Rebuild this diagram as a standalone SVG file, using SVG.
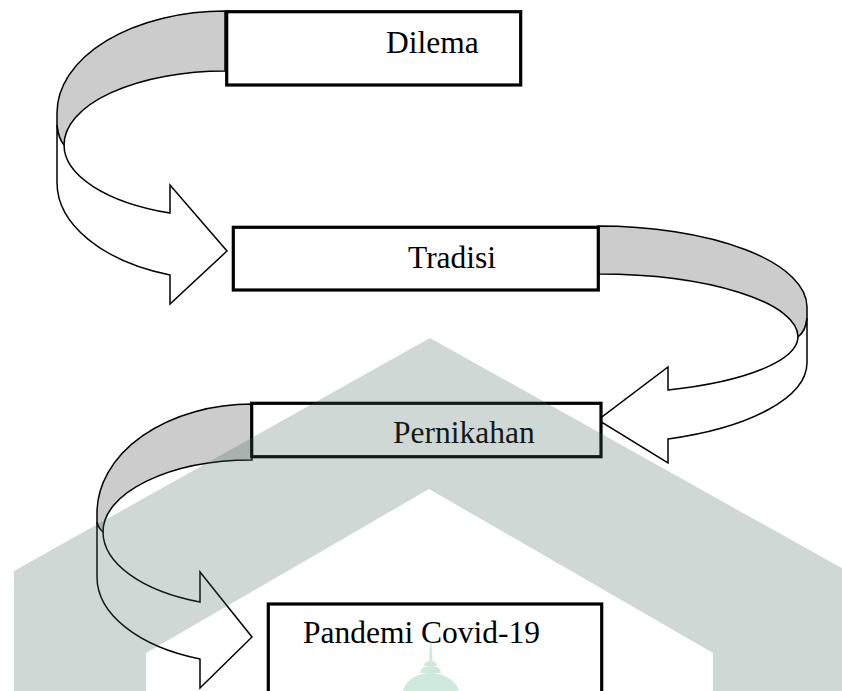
<svg xmlns="http://www.w3.org/2000/svg" width="842" height="691" viewBox="0 0 842 691">
<style>
.box{fill:#ffffff;stroke:#000000;stroke-width:3.2}
.back{fill:#cccccc;stroke:#000000;stroke-width:1.5;stroke-linejoin:miter}
.front{fill:#ffffff;stroke:#000000;stroke-width:1.5;stroke-linejoin:miter}
.lbl{font-family:"Liberation Serif","Times New Roman",serif;font-size:31.5px;fill:#000000}
.wm{fill:rgb(67,102,90);fill-opacity:0.255;fill-rule:evenodd}
.mn{fill:rgb(95,185,138);fill-opacity:0.3}
</style>
<rect x="0" y="0" width="842" height="691" fill="#ffffff"/>
<g id="connectors">
  <g id="arrow-dilema-tradisi">
    <path class="back" d="M225,11 A168,102 0 0 0 57,113 L57,125 Q58,138 64,145 A161,74 0 0 1 225,71 Z"/>
    <path class="front" d="M57,125 L57,182 A168,98 0 0 0 170,275 L170,304 L227,251 L170,185 L170,213 A161,72.5 0 0 1 64,145 Q58,138 57,125 Z"/>
  </g>
  <g id="arrow-tradisi-pernikahan">
    <path class="back" d="M598,226 A209,81 0 0 1 807,307 L807,318 Q806,331 798,337 A200,63 0 0 0 598,274 Z"/>
    <path class="front" d="M807,318 L807,363 A209,81 0 0 1 668,439 L668,463 L598,420 L668,367 L668,390 A200,57 0 0 0 798,337 Q806,331 807,318 Z"/>
  </g>
  <g id="arrow-pernikahan-pandemi">
    <path class="back" d="M252,404 A155,109 0 0 0 97,513 L97,522 Q98,528 103,532 A149,72 0 0 1 252,460 Z"/>
    <path class="front" d="M97,522 L97,577 A155,87 0 0 0 200,659 L200,688 L252,637 L200,572 L200,602 A149,75 0 0 1 103,532 Q98,528 97,522 Z"/>
  </g>
</g>
<g id="node-dilema">
  <rect class="box" x="226.7" y="11.7" width="294" height="73.3"/>
  <text class="lbl" x="386" y="53">Dilema</text>
</g>
<g id="node-tradisi">
  <rect class="box" x="233.3" y="227.3" width="365" height="62.7"/>
  <text class="lbl" x="408" y="268">Tradisi</text>
</g>
<g id="node-pernikahan">
  <rect class="box" x="251.7" y="403.3" width="349.3" height="53.4"/>
  <text class="lbl" x="393" y="443">Pernikahan</text>
</g>
<g id="node-pandemi">
  <rect class="box" x="268.3" y="604" width="333.4" height="100"/>
  <text class="lbl" x="303" y="643">Pandemi Covid-19</text>
</g>
<g id="watermark">
  <path class="wm" d="M430,338 L845,570 L845,700 L14,700 L14,571 Z M429,489 L713,653 L713,700 L146,700 L146,653 Z"/>
  <path class="mn" d="M430,642 L431.5,642 L432.5,661 L429,661 Z"/>
  <path class="mn" d="M424,666 Q424,661 430.7,661 Q437,661 437,666 Z"/>
  <path class="mn" d="M420,673 Q420,666 430.7,666 Q441,666 441,673 Z"/>
  <path class="mn" d="M403,691 C405,680 418,673 430.7,673 C443,673 456,680 459,691 Z"/>
</g>
</svg>
